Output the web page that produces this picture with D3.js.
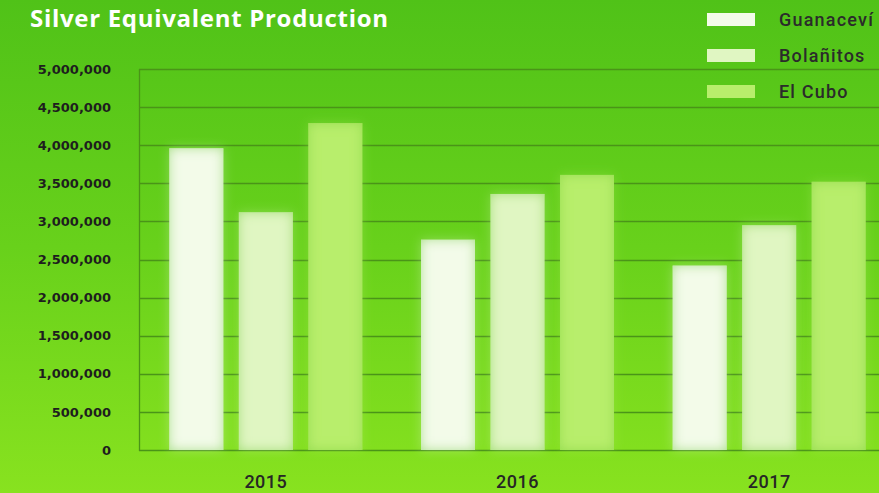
<!DOCTYPE html>
<html>
<head>
<meta charset="utf-8">
<script src="https://cdn.jsdelivr.net/npm/d3@7/dist/d3.min.js"></script>
<style>
  html, body { margin: 0; padding: 0; overflow: hidden; }
  body { width: 879px; height: 493px; }
</style>
</head>
<body>
<div id="chart"></div>
<script>
const years = ["2015", "2016", "2017"];
const mines = ["Guanaceví", "Bolañitos", "El Cubo"];
const guanacevi = [3960000, 2760000, 2420000];
const bolanitos = [3120000, 3360000, 2950000];
const elCubo = [4290000, 3610000, 3520000];
const yTicks = [0, 500000, 1000000, 1500000, 2000000, 2500000, 3000000, 3500000, 4000000, 4500000, 5000000];
const mineColors = ["#f3fbe9", "#e0f6c2", "#b8ee6c"];

const width = 879, height = 493;
const plotLeft = 139, plotTop = 69, plotBottom = 450;

const series = [guanacevi, bolanitos, elCubo];
const rows = years.map((yr, i) => ({ year: yr, values: mines.map((m, j) => ({ mine: m, value: series[j][i] })) }));

const svg = d3.select("#chart").append("svg").attr("width", width).attr("height", height);
const defs = svg.append("defs");

const bg = defs.append("linearGradient").attr("id", "bg").attr("x1", 0).attr("y1", 0).attr("x2", 0).attr("y2", 1);
bg.append("stop").attr("offset", "0%").attr("stop-color", "#50c218");
bg.append("stop").attr("offset", "50%").attr("stop-color", "#68d11b");
bg.append("stop").attr("offset", "100%").attr("stop-color", "#88e21f");

// inner glow + soft halo for the bars
const f = defs.append("filter").attr("id", "barGlow").attr("x", "-40%").attr("y", "-15%").attr("width", "180%").attr("height", "130%");
f.append("feGaussianBlur").attr("in", "SourceGraphic").attr("stdDeviation", 6).attr("result", "halo0");
f.append("feComponentTransfer").attr("in", "halo0").attr("result", "halo")
  .append("feFuncA").attr("type", "linear").attr("slope", 0.3);
f.append("feFlood").attr("flood-color", "#8ad844").attr("flood-opacity", 0.8).attr("result", "fl");
f.append("feComposite").attr("in", "fl").attr("in2", "SourceAlpha").attr("operator", "out").attr("result", "outside");
f.append("feGaussianBlur").attr("in", "outside").attr("stdDeviation", 6).attr("result", "blurred");
f.append("feComposite").attr("in", "blurred").attr("in2", "SourceAlpha").attr("operator", "in").attr("result", "inner");
const merge = f.append("feMerge");
merge.append("feMergeNode").attr("in", "halo");
merge.append("feMergeNode").attr("in", "SourceGraphic");
merge.append("feMergeNode").attr("in", "inner");

svg.append("rect").attr("width", width).attr("height", height).attr("fill", "url(#bg)");

const y = d3.scaleLinear().domain([0, 5000000]).range([plotBottom, plotTop]);
const x0 = d3.scaleBand().domain(years).range([140, 895]);
const groupW = 193;
const x1 = d3.scaleBand().domain(mines)
  .range([(x0.bandwidth() - groupW) / 2, (x0.bandwidth() + groupW) / 2])
  .paddingInner(0.223);
const color = d3.scaleOrdinal().domain(mines).range(mineColors);

// grid
svg.append("g").selectAll("line").data(yTicks).join("line")
  .attr("x1", plotLeft).attr("x2", width)
  .attr("y1", d => Math.round(y(d)) + 0.5).attr("y2", d => Math.round(y(d)) + 0.5)
  .attr("stroke", "#4a9418").attr("stroke-width", 1.3);
svg.append("line").attr("x1", plotLeft + 0.5).attr("x2", plotLeft + 0.5).attr("y1", plotTop).attr("y2", plotBottom + 1)
  .attr("stroke", "#4a9418").attr("stroke-width", 1.3);

// y axis labels
const yAxis = svg.append("g").attr("transform", `translate(${plotLeft},0)`)
  .call(d3.axisLeft(y).tickValues(yTicks).tickFormat(d3.format(",")).tickSize(0).tickPadding(28));
yAxis.select(".domain").remove();
yAxis.selectAll("text").attr("fill", "#1e1e1e").style("font-family", "'DejaVu Sans'").style("font-weight", "bold").style("font-size", "13px");

// bars
svg.append("g").selectAll("g").data(rows).join("g")
  .attr("transform", d => `translate(${x0(d.year)},0)`)
  .selectAll("rect").data(d => d.values).join("rect")
  .attr("x", d => x1(d.mine)).attr("width", x1.bandwidth())
  .attr("y", d => y(d.value)).attr("height", d => y(0) - y(d.value))
  .attr("fill", d => color(d.mine)).attr("filter", "url(#barGlow)");

// x axis labels
const xAxis = svg.append("g").attr("transform", `translate(0,${plotBottom})`)
  .call(d3.axisBottom(x0).tickSize(0).tickPadding(25));
xAxis.select(".domain").remove();
xAxis.selectAll("text").attr("fill", "#262626").style("font-family", "Roboto").style("font-weight", 500)
  .style("font-size", "18px").style("letter-spacing", "0.5px");

// title
svg.append("text").attr("x", 30).attr("y", 27).text("Silver Equivalent Production")
  .attr("fill", "#fff").style("font-family", "'Open Sans'").style("font-weight", 700)
  .style("font-size", "24px").style("letter-spacing", "0.7px");

// legend
const legend = svg.append("g").selectAll("g").data(mines).join("g")
  .attr("transform", (d, i) => `translate(707,${13 + i * 36})`);
legend.append("rect").attr("width", 48).attr("height", 13).attr("fill", d => color(d));
legend.append("text").attr("x", 72).attr("y", 6.5).attr("dy", "0.35em").text(d => d)
  .attr("fill", "#2b2b2b").style("font-family", "Roboto").style("font-weight", 500)
  .style("font-size", "18px").style("letter-spacing", "1.2px");
</script>
</body>
</html>
